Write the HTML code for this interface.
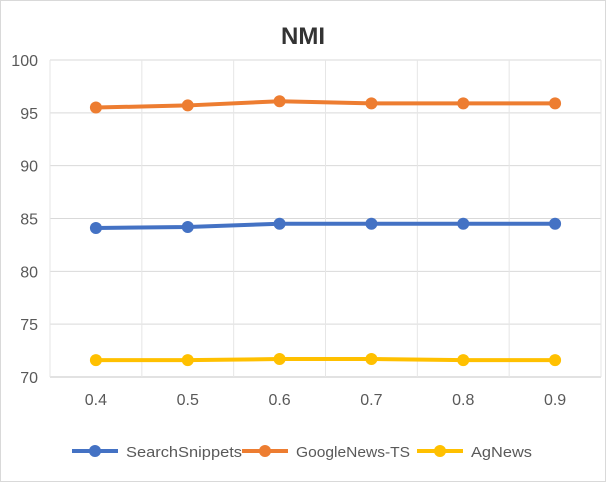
<!DOCTYPE html>
<html><head><meta charset="utf-8"><style>
body{margin:0;background:#fff}
svg{display:block;font-family:"Liberation Sans",Calibri,sans-serif}
</style></head><body>
<svg id="chart" width="606" height="482" viewBox="0 0 606 482">
<rect x="0.5" y="0.5" width="605" height="481" fill="#fff" stroke="#d9d9d9"/>
<text x="303" y="44" text-anchor="middle" font-size="24" font-weight="bold" fill="#333">NMI</text>
<g id="grid"></g><g id="series"></g><g id="legend"></g>
</svg>
<script>
const categories=["0.4","0.5","0.6","0.7","0.8","0.9"];
const searchSnippets=[84.1,84.2,84.5,84.5,84.5,84.5];
const googleNews=[95.5,95.7,96.1,95.9,95.9,95.9];
const agNews=[71.6,71.6,71.7,71.7,71.6,71.6];
const yTicks=[70,75,80,85,90,95,100];
const seriesNames=["SearchSnippets","GoogleNews-TS","AgNews"];
const NS="http://www.w3.org/2000/svg";
const L=50,R=601,T=60,B=377,yMin=70,yMax=100;
const bw=(R-L)/categories.length;
const xs=i=>L+bw*(i+0.5);
const ys=v=>B-(v-yMin)/(yMax-yMin)*(B-T);
function mk(tag,attrs,parent,txt){const e=document.createElementNS(NS,tag);for(const k in attrs)e.setAttribute(k,attrs[k]);if(txt!=null)e.textContent=txt;parent.appendChild(e);return e;}
const grid=document.getElementById('grid');
yTicks.forEach(t=>{
 const l=mk('line',{x1:L,x2:R,y1:ys(t),y2:ys(t),stroke:'#d9d9d9','stroke-width':t===yMin?1.5:1},grid);
 
 
 const tx=mk('text',{x:38,y:ys(t)+6,'text-anchor':'end','font-size':16,fill:'#595959'},grid,t);
 
 
});
for(let i=0;i<=categories.length;i++){
 const l=mk('line',{x1:L+bw*i,x2:L+bw*i,y1:T,y2:B,stroke:'#e6e6e6'},grid);
 
 
}
categories.forEach((c,i)=>{
 const tx=mk('text',{x:xs(i),y:405,'text-anchor':'middle','font-size':16,fill:'#595959'},grid,c);
 
 
});
const colors=["#4472c4","#ed7d31","#ffc000"];
const data=[searchSnippets,googleNews,agNews];
const sg=document.getElementById('series');
data.forEach((arr,s)=>{
 const g=mk('g',{},sg);
 
 
 const p=mk('polyline',{points:arr.map((v,i)=>xs(i)+','+ys(v)).join(' '),fill:'none',stroke:colors[s],'stroke-width':4,'stroke-linejoin':'round'},g);
 
 
 arr.forEach((v,i)=>{
  const c=mk('circle',{cx:xs(i),cy:ys(v),r:6,fill:colors[s]},g);
  
  
 });
});
const lg=document.getElementById('legend');
const lx=[72,242,417];
const tw=[116,114,61];
seriesNames.forEach((n,s)=>{
 const g=mk('g',{},lg);
 
 
 mk('line',{x1:lx[s],x2:lx[s]+46,y1:451,y2:451,stroke:colors[s],'stroke-width':4},g);
 mk('circle',{cx:lx[s]+23,cy:451,r:6,fill:colors[s]},g);
 mk('text',{x:lx[s]+54,y:457,'font-size':15,fill:'#595959',textLength:tw[s],lengthAdjust:'spacingAndGlyphs'},g,n);
});
</script>
</body></html>
